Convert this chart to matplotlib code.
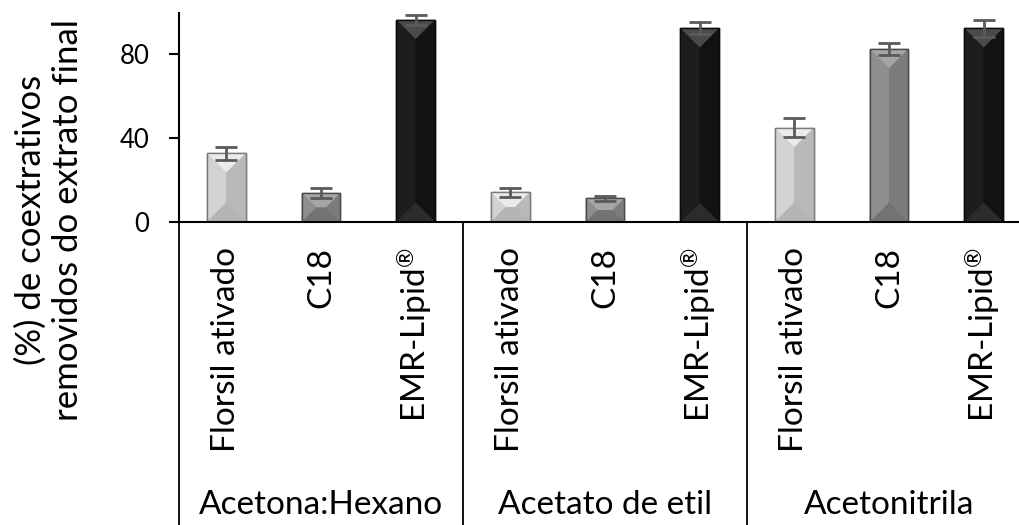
import matplotlib
matplotlib.use("Agg")
import matplotlib.pyplot as plt
from matplotlib.patches import Polygon
from matplotlib.lines import Line2D
import numpy as np

plt.rcParams['font.family'] = ['Lato', 'DejaVu Sans']
plt.rcParams['mathtext.fontset'] = 'custom'
plt.rcParams['mathtext.rm'] = 'Lato'
plt.rcParams['mathtext.it'] = 'Lato:italic'
plt.rcParams['mathtext.bf'] = 'Lato:bold'

# Data
groups = ["Acetona:Hexano", "Acetato de etil", "Acetonitrila"]
sorbents = ["Florsil ativado", "C18", r"EMR-Lipid$^{\circledR}$"]
florsil = [32.7, 14.1, 44.8]
florsil_err = [3.0, 2.2, 4.5]
c18 = [13.8, 11.3, 82.4]
c18_err = [2.5, 1.2, 3.0]
emr = [96.2, 92.2, 92.2]
emr_err = [2.5, 2.8, 4.0]
yticks = [0, 40, 80]

# Bevel face colours per sorbent: (top, left, right, bottom, edge)
face_colors = [
    ("#ebebeb", "#d2d2d2", "#b9b9b9", "#b4b4b4", "#7a7a7a"),
    ("#a5a5a5", "#8e8e8e", "#7c7c7c", "#737373", "#4a4a4a"),
    ("#4a4a4a", "#1d1d1d", "#121212", "#2c2c2c", "#0a0a0a"),
]

W, H, DPI = 1019, 525, 100
fig = plt.figure(figsize=(W / DPI, H / DPI), dpi=DPI)
# axes box in pixels: left 179, right 1031, top 13, bottom 222
ax = fig.add_axes([179 / W, (H - 222) / H, (1031 - 179) / W, (222 - 13) / H])

n_groups = len(groups)
n_sorb = len(sorbents)
values = np.array([florsil, c18, emr])      # shape (sorbent, group)
errors = np.array([florsil_err, c18_err, emr_err])

ax.set_xlim(-0.5, n_groups * n_sorb - 0.5)
ax.set_ylim(0, 99.5)
bar_w = 0.41

fig.canvas.draw()
to_disp = ax.transData
to_data = ax.transData.inverted()

def bevel_faces(x0, x1, y0, y1):
    """Return the four hip-roof faces (top, left, right, bottom) in data coords."""
    (px0, py0), (px1, py1) = to_disp.transform([(x0, y0), (x1, y1)])
    w = px1 - px0
    h = py1 - py0
    cx = (px0 + px1) / 2
    cy = (py0 + py1) / 2
    if h >= w:
        r_top = (cx, py1 - w / 2)
        r_bot = (cx, py0 + w / 2)
        top = [(px0, py1), (px1, py1), r_top]
        bottom = [(px0, py0), (px1, py0), r_bot]
        left = [(px0, py0), r_bot, r_top, (px0, py1)]
        right = [(px1, py0), r_bot, r_top, (px1, py1)]
    else:
        r_l = (px0 + h / 2, cy)
        r_r = (px1 - h / 2, cy)
        top = [(px0, py1), (px1, py1), r_r, r_l]
        bottom = [(px0, py0), (px1, py0), r_r, r_l]
        left = [(px0, py0), (px0, py1), r_l]
        right = [(px1, py0), (px1, py1), r_r]
    return [to_data.transform(np.array(f)) for f in (top, left, right, bottom)]

for s in range(n_sorb):
    xs = np.arange(n_groups) * n_sorb + s
    cols = face_colors[s]
    bars = ax.bar(xs, values[s], width=bar_w, color=cols[2], edgecolor=cols[4],
                  linewidth=1.0, zorder=2)
    for b in bars:
        x0 = b.get_x()
        x1 = x0 + b.get_width()
        y1 = b.get_height()
        faces = bevel_faces(x0, x1, 0, y1)
        for poly, c in zip(faces, (cols[0], cols[1], cols[2], cols[3])):
            ax.add_patch(Polygon(poly, closed=True, facecolor=c, edgecolor='none',
                                 zorder=2.5))
        ax.add_patch(Polygon([(x0, 0), (x1, 0), (x1, y1), (x0, y1)], closed=True,
                             facecolor='none', edgecolor=cols[4], linewidth=1.0,
                             zorder=2.6))
    ax.errorbar(xs, values[s], yerr=errors[s], fmt='none', ecolor="#5a5a5a",
                elinewidth=2.0, capsize=8, capthick=2.0, zorder=3)

# Axes styling
for side in ("top", "right"):
    ax.spines[side].set_visible(False)
ax.spines["left"].set_linewidth(1.5)
ax.spines["bottom"].set_linewidth(1.5)
ax.spines["bottom"].set_zorder(4)
ax.set_xticks([])
ax.set_yticks(yticks)
ax.tick_params(axis='y', direction='out', length=7.5, width=1.5, labelsize=18.5,
               pad=14)

# Category labels (rotated), group labels and divider lines
for g in range(n_groups):
    for s in range(n_sorb):
        x = g * n_sorb + s
        ax.text(x, -0.12, sorbents[s], rotation=90, ha='center', va='top',
                fontsize=24, transform=ax.get_xaxis_transform())
    ax.text(g * n_sorb + 1, -1.355, groups[g], ha='center', va='center',
            fontsize=24, transform=ax.get_xaxis_transform())
for g in range(n_groups + 1):
    xb = g * n_sorb - 0.5
    ax.add_line(Line2D([xb, xb], [0, -1.6], transform=ax.get_xaxis_transform(),
                       color='black', linewidth=1.3, clip_on=False))

fig.text(49 / W, 1 - 220 / H, "(%) de coextrativos\nremovidos do extrato final",
         rotation=90, ha='center', va='center', fontsize=25, linespacing=1.2,
         multialignment='center')

fig.savefig("out.png", dpi=DPI)
